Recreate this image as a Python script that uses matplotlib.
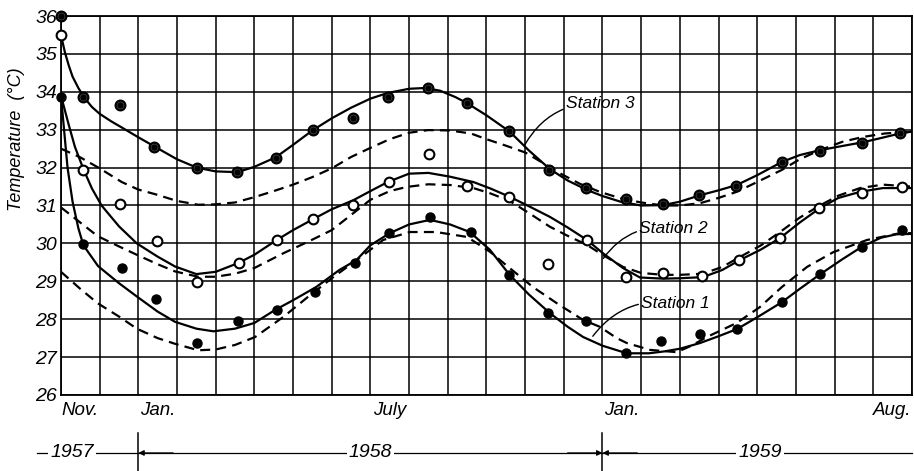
import numpy as np
import matplotlib
matplotlib.use("Agg")
import matplotlib.pyplot as plt

plt.rcParams['font.family'] = ['Liberation Sans', 'DejaVu Sans']

# months counted from 1 Nov 1957 (0) to 1 Sep 1959 (22)
month_labels = ['Nov.', 'Jan.', 'July', 'Jan.', 'Aug.']
month_pos = [0.5, 2.5, 8.5, 14.5, 21.5]
years = ['1957', '1958', '1959']
year_pos = [0.28, 8.0, 18.07]
year_bounds = [-0.62, 2, 14, 22]

# measured points
st3_x = [0, 0.57, 1.53, 2.41, 3.51, 4.56, 5.56, 6.52, 7.55, 8.45, 9.49, 10.5, 11.58,
         12.62, 13.57, 14.6, 15.56, 16.5, 17.45, 18.64, 19.62, 20.7, 21.7]
st3_y = [36.0, 33.86, 33.65, 32.55, 32.0, 31.88, 32.25, 32.99, 33.3, 33.86, 34.1, 33.7, 32.97,
         31.94, 31.46, 31.17, 31.04, 31.28, 31.52, 32.15, 32.44, 32.65, 32.9]
st2_x = [0, 0.57, 1.53, 2.47, 3.51, 4.6, 5.58, 6.52, 7.55, 8.48, 9.51, 10.5, 11.58,
         12.59, 13.6, 14.6, 15.56, 16.57, 17.53, 18.59, 19.6, 20.7, 21.74]
st2_y = [35.5, 31.94, 31.04, 30.06, 28.98, 29.48, 30.09, 30.64, 31.01, 31.62, 32.36, 31.51, 31.22,
         29.46, 30.09, 29.11, 29.22, 29.14, 29.56, 30.14, 30.93, 31.33, 31.5]
st1_x = [0, 0.57, 1.58, 2.46, 3.51, 4.58, 5.58, 6.57, 7.6, 8.48, 9.54, 10.6, 11.58,
         12.59, 13.57, 14.6, 15.51, 16.52, 17.48, 18.64, 19.62, 20.7, 21.74]
st1_y = [33.86, 29.98, 29.35, 28.53, 27.37, 27.95, 28.24, 28.72, 29.48, 30.27, 30.7, 30.3, 29.17,
         28.16, 27.95, 27.11, 27.42, 27.6, 27.74, 28.45, 29.19, 29.91, 30.35]

# fitted curves (solid) and second fit (dashed)
s3_x = [0.0, 0.1, 0.2, 0.3, 0.45, 0.6, 0.8, 1.0, 1.3, 1.57, 2.0, 2.43, 3.0, 3.51, 4.0, 4.56, 5.0,
        5.55, 6.0, 6.5, 7.0, 7.5, 8.0, 8.45, 9.0, 9.4, 9.8, 10.2, 10.5, 11.0, 11.6, 12.1, 12.64, 13.1,
        13.6, 14.0, 14.5, 15.0, 15.57, 16.0, 16.52, 17.0, 17.47, 18.0, 18.64, 19.1, 19.62, 20.2,
        20.74, 21.2, 21.69, 22.0]
s3_y = [35.5, 35.05, 34.7, 34.4, 34.1, 33.85, 33.6, 33.42, 33.22, 33.06, 32.8, 32.55, 32.22, 32.0,
        31.9, 31.88, 32.02, 32.27, 32.6, 32.98, 33.3, 33.58, 33.82, 33.97, 34.08, 34.1, 34.03, 33.86,
        33.7, 33.38, 32.95, 32.45, 31.96, 31.66, 31.41, 31.25, 31.09, 31.0, 31.01, 31.1, 31.27, 31.4,
        31.54, 31.8, 32.15, 32.33, 32.46, 32.57, 32.67, 32.78, 32.9, 32.95]
d3_x = [0.0, 0.5, 1.0, 1.57, 2.0, 2.43, 3.0, 3.55, 4.0, 4.5, 5.0, 5.5, 6.0, 6.5, 7.0, 7.5, 8.0, 8.5,
        9.0, 9.5, 10.05, 10.6, 11.0, 11.5, 12.0, 12.5, 12.9, 13.4, 13.93, 14.5, 15.0, 15.57, 16.0,
        16.52, 17.0, 17.47, 18.0, 18.64, 19.1, 19.62, 20.2, 20.74, 21.3, 22.0]
d3_y = [32.5, 32.27, 31.98, 31.62, 31.42, 31.3, 31.12, 31.02, 31.03, 31.08, 31.22, 31.38, 31.55,
        31.75, 31.98, 32.28, 32.52, 32.75, 32.92, 32.99, 32.98, 32.9, 32.75, 32.58, 32.4, 32.1, 31.85,
        31.58, 31.36, 31.18, 31.08, 31.0, 31.0, 31.06, 31.2, 31.36, 31.62, 31.94, 32.22, 32.46, 32.68,
        32.81, 32.9, 32.95]
s2_x = [0.0, 0.19, 0.36, 0.58, 0.8, 1.05, 1.5, 1.96, 2.5, 2.95, 3.5, 4.0, 4.58, 5.0, 5.58, 6.0,
        6.52, 7.0, 7.56, 8.0, 8.45, 9.0, 9.5, 10.06, 10.66, 11.1, 11.6, 12.1, 12.64, 13.1, 13.6, 14.0,
        14.53, 14.97, 15.57, 16.0, 16.6, 17.1, 17.55, 18.1, 18.59, 19.1, 19.62, 20.1, 20.66, 21.25, 22.0]
s2_y = [33.9, 33.17, 32.55, 31.96, 31.45, 31.0, 30.45, 30.0, 29.65, 29.39, 29.19, 29.25, 29.48,
        29.7, 30.09, 30.35, 30.64, 30.9, 31.14, 31.38, 31.62, 31.84, 31.86, 31.76, 31.62, 31.45, 31.23,
        30.98, 30.7, 30.42, 30.09, 29.75, 29.35, 29.1, 29.07, 29.08, 29.11, 29.3, 29.56, 29.84, 30.14,
        30.55, 30.93, 31.2, 31.36, 31.46, 31.46]
d2_x = [0.0, 0.5, 0.95, 1.5, 1.96, 2.5, 2.95, 3.55, 4.0, 4.5, 5.0, 5.75, 6.4, 7.0, 7.5, 8.0, 8.5,
        8.94, 9.5, 10.06, 10.66, 11.1, 11.6, 12.1, 12.64, 13.1, 13.6, 14.0, 14.53, 15.0, 15.57, 16.0,
        16.6, 17.1, 17.55, 18.1, 18.59, 19.1, 19.62, 20.1, 20.66, 21.25, 22.0]
d2_y = [30.95, 30.55, 30.19, 29.92, 29.7, 29.45, 29.26, 29.12, 29.12, 29.2, 29.35, 29.74, 30.05,
        30.35, 30.75, 31.15, 31.38, 31.49, 31.56, 31.54, 31.46, 31.32, 31.12, 30.8, 30.44, 30.2, 29.96,
        29.7, 29.38, 29.22, 29.17, 29.17, 29.2, 29.38, 29.64, 29.95, 30.3, 30.68, 31.0, 31.26, 31.46,
        31.55, 31.5]
s1_x = [0.0, 0.08, 0.17, 0.3, 0.45, 0.58, 0.96, 1.5, 1.96, 2.5, 2.95, 3.5, 3.94, 4.5, 5.0, 5.53, 6.0,
        6.6, 7.2, 7.64, 8.0, 8.5, 9.0, 9.54, 10.06, 10.57, 11.09, 11.6, 12.1, 12.64, 13.1, 13.5, 14.0,
        14.63, 15.2, 15.6, 16.0, 16.52, 17.0, 17.48, 18.0, 18.64, 19.1, 19.62, 20.2, 20.72, 21.2, 21.6, 22.0]
s1_y = [33.9, 33.0, 32.0, 31.1, 30.4, 29.95, 29.4, 28.95, 28.6, 28.2, 27.93, 27.75, 27.68, 27.75,
        27.9, 28.24, 28.5, 28.85, 29.3, 29.56, 29.95, 30.27, 30.5, 30.62, 30.5, 30.3, 29.83, 29.17,
        28.65, 28.16, 27.8, 27.53, 27.3, 27.1, 27.1, 27.15, 27.22, 27.37, 27.55, 27.74, 28.05, 28.45,
        28.8, 29.18, 29.58, 29.92, 30.15, 30.24, 30.25]
d1_x = [0.0, 0.5, 0.95, 1.5, 1.96, 2.5, 2.95, 3.55, 4.0, 4.5, 5.02, 5.75, 6.4, 7.04, 7.7, 8.33, 9.02,
        9.7, 10.5, 11.09, 11.6, 12.2, 12.85, 13.5, 13.93, 14.37, 14.63, 15.23, 15.92, 16.3, 16.7, 17.47,
        18.07, 18.64, 19.29, 19.97, 20.84, 21.69, 22.0]
d1_y = [29.25, 28.8, 28.42, 28.07, 27.75, 27.5, 27.35, 27.18, 27.2, 27.32, 27.53, 28.06, 28.6, 29.11,
        29.6, 30.09, 30.3, 30.3, 30.17, 29.78, 29.35, 28.85, 28.4, 27.98, 27.8, 27.5, 27.37, 27.19,
        27.13, 27.3, 27.53, 27.9, 28.32, 28.85, 29.38, 29.77, 30.09, 30.27, 30.27]

fig = plt.figure(figsize=(9.14, 4.71), dpi=100)
ax = fig.add_axes([0.0667, 0.1614, 0.931, 0.8046])

ax.set_xlim(0, 22)
ax.set_ylim(26, 36)
ax.set_xticks(np.arange(0, 23), minor=True)
ax.set_xticks(month_pos)
ax.set_xticklabels(month_labels, style='italic', fontsize=13.5)
ax.set_yticks(np.arange(26, 37))
ax.set_yticklabels([str(v) for v in range(26, 37)], style='italic', fontsize=14)
ax.tick_params(which='both', length=0)
ax.tick_params(axis='x', pad=5)
ax.tick_params(axis='y', pad=3)
ax.grid(which='minor', axis='x', color='k', lw=1.1)
ax.grid(which='major', axis='y', color='k', lw=1.1)
ax.grid(which='major', axis='x', visible=False)
for sp in ax.spines.values():
    sp.set_linewidth(1.3)

dash = (0, (4.5, 2.8))
for sx, sy, dx, dy in [(s3_x, s3_y, d3_x, d3_y), (s2_x, s2_y, d2_x, d2_y), (s1_x, s1_y, d1_x, d1_y)]:
    ax.plot(sx, sy, color='k', lw=1.6, solid_joinstyle='round', zorder=3)
    ax.plot(dx, dy, color='k', lw=1.6, linestyle=dash, zorder=3)

ax.plot(st3_x, st3_y, 'o', ms=7, mfc='#555555', mec='k', mew=1.6, clip_on=False, zorder=4)
ax.plot(st3_x, st3_y, 'o', ms=3.5, mfc='k', mec='k', clip_on=False, zorder=5)
ax.plot(st2_x, st2_y, 'o', ms=7, mfc='white', mec='k', mew=1.5, clip_on=False, zorder=4)
ax.plot(st1_x, st1_y, 'o', ms=6.5, mfc='k', mec='k', clip_on=False, zorder=4)

# station labels with curved leaders
ax.annotate('Station 3', xy=(11.99, 32.6), xytext=(13.05, 33.7), fontsize=12.5, style='italic',
            va='center', ha='left',
            arrowprops=dict(arrowstyle='-', color='k', lw=1.0, connectionstyle='arc3,rad=0.3',
                            shrinkA=0, shrinkB=0))
ax.annotate('Station 2', xy=(14.02, 29.6), xytext=(14.95, 30.4), fontsize=12.5, style='italic',
            va='center', ha='left',
            arrowprops=dict(arrowstyle='-', color='k', lw=1.0, connectionstyle='arc3,rad=0.3',
                            shrinkA=0, shrinkB=0))
ax.annotate('Station 1', xy=(13.75, 27.55), xytext=(15.0, 28.42), fontsize=12.5, style='italic',
            va='center', ha='left',
            arrowprops=dict(arrowstyle='-', color='k', lw=1.0, connectionstyle='arc3,rad=0.3',
                            shrinkA=0, shrinkB=0))

fig.text(0.018, 0.705, 'Temperature  (°C)', rotation=90, style='italic', fontsize=13,
         ha='center', va='center')

# year brackets under the axis
tr = ax.get_xaxis_transform()
yrow = -0.153
ax.plot([year_bounds[0], year_bounds[-1]], [yrow, yrow], color='k', lw=0.9, transform=tr, clip_on=False)
for b in year_bounds[1:3]:
    ax.plot([b, b], [-0.1, -0.2], color='k', lw=1.1, transform=tr, clip_on=False)
for x0, x1 in [(2.9, 2.0), (13.1, 14.0), (14.9, 14.0)]:
    ax.annotate('', xy=(x1, yrow), xytext=(x0, yrow), xycoords=tr, textcoords=tr,
                arrowprops=dict(arrowstyle='-|>', color='k', lw=0.9, mutation_scale=8,
                                shrinkA=0, shrinkB=0))
for yr, xp in zip(years, year_pos):
    ax.text(xp, yrow, yr, transform=tr, style='italic', fontsize=14, ha='center', va='center',
            bbox=dict(facecolor='white', edgecolor='none', pad=1.5))

fig.savefig('out.png', dpi=100)
